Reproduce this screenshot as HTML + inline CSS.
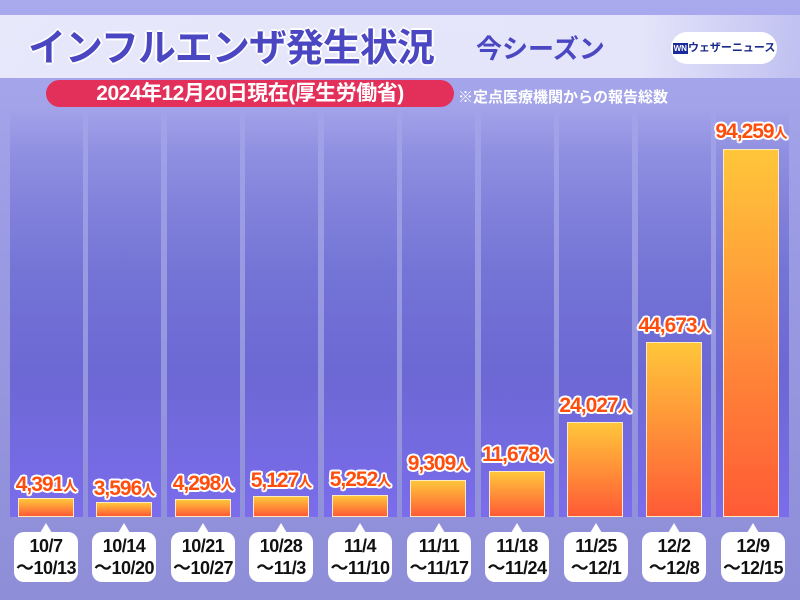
<!DOCTYPE html>
<html><head><meta charset="utf-8">
<style>
body{margin:0;width:800px;height:600px;overflow:hidden;font-family:"Liberation Sans","Noto Sans CJK JP",sans-serif;}
#c{position:relative;width:800px;height:600px;background:linear-gradient(#a9a9ee 0%,#9b9be4 40%,#8e8ed8 100%);overflow:hidden}
.strip{position:absolute;top:108px;height:409px;width:73px;background:linear-gradient(rgba(150,150,230,0) 0%,rgba(130,130,220,0.6) 12%,#7474d6 40%,#6c68d4 65%,#7b6cec 100%)}
.bar{position:absolute;width:56px;bottom:83px;border:1px solid #ffe9c0;background:linear-gradient(#ffc63a,#ff5a36);box-sizing:border-box}
.val{position:absolute;width:110px;text-align:center;font-weight:bold;font-size:21px;color:#ff4d0c;letter-spacing:-1px;
text-shadow:2px 0 #fff,-2px 0 #fff,0 2px #fff,0 -2px #fff,1.5px 1.5px #fff,-1.5px -1.5px #fff,1.5px -1.5px #fff,-1.5px 1.5px #fff}
.val small{font-size:14px}
.lab{position:absolute;top:532px;width:64px;height:50px;background:#fff;border-radius:10px;text-align:center;font-weight:bold;font-size:18px;line-height:22px;color:#111;padding-top:3px;box-sizing:border-box;letter-spacing:-0.5px}
.lab:before{content:"";position:absolute;left:26px;top:-9px;border-left:6px solid transparent;border-right:6px solid transparent;border-bottom:10px solid #fff}
</style></head><body><div id="c">
<div style="position:absolute;left:0;top:15px;width:800px;height:63px;background:linear-gradient(90deg,rgba(235,235,252,0.95),rgba(235,235,252,0.9) 80%,rgba(210,210,245,0.6))"></div>
<div style="position:absolute;left:28px;top:17px;font-size:38px;font-weight:bold;color:#4b47c2;letter-spacing:-1px;text-shadow:2px 0 #fff,-2px 0 #fff,0 2px #fff,0 -2px #fff">インフルエンザ発生状況</div>
<div style="position:absolute;left:476px;top:29px;font-size:26px;font-weight:bold;color:#4b47c2">今シーズン</div>
<div style="position:absolute;left:671px;top:32px;width:106px;height:32px;background:#fff;border-radius:16px;font-size:11px;font-weight:bold;color:#1a2a8a;line-height:32px;text-align:center"><span style="display:inline-block;background:#1a2a9a;color:#fff;font-size:8px;line-height:11px;padding:0 1px;vertical-align:middle">WN</span>ウェザーニュース</div>
<div style="position:absolute;left:46px;top:80px;width:408px;height:27px;background:#e2305a;border-radius:14px;color:#fff;font-weight:bold;font-size:21px;line-height:27px;text-align:center;letter-spacing:-0.5px">2024年12月20日現在(厚生労働省)</div>
<div style="position:absolute;left:458px;top:86px;color:#fff;font-weight:bold;font-size:15px">※定点医療機関からの報告総数</div>

<div class="strip" style="left:10px"></div><div class="strip" style="left:88px"></div><div class="strip" style="left:167px"></div><div class="strip" style="left:245px"></div><div class="strip" style="left:324px"></div><div class="strip" style="left:402px"></div><div class="strip" style="left:481px"></div><div class="strip" style="left:559px"></div><div class="strip" style="left:638px"></div><div class="strip" style="left:716px"></div>

<div class="bar" style="left:18px;height:19px"></div>
<div class="bar" style="left:96px;height:15px"></div>
<div class="bar" style="left:175px;height:18px"></div>
<div class="bar" style="left:253px;height:21px"></div>
<div class="bar" style="left:332px;height:22px"></div>
<div class="bar" style="left:410px;height:37px"></div>
<div class="bar" style="left:489px;height:46px"></div>
<div class="bar" style="left:567px;height:95px"></div>
<div class="bar" style="left:646px;height:175px"></div>
<div class="bar" style="left:723px;height:368px"></div>

<div class="val" style="left:-9px;top:473px">4,391<small>人</small></div>
<div class="val" style="left:69px;top:477px">3,596<small>人</small></div>
<div class="val" style="left:148px;top:472px">4,298<small>人</small></div>
<div class="val" style="left:226px;top:469px">5,127<small>人</small></div>
<div class="val" style="left:305px;top:468px">5,252<small>人</small></div>
<div class="val" style="left:383px;top:452px">9,309<small>人</small></div>
<div class="val" style="left:462px;top:443px">11,678<small>人</small></div>
<div class="val" style="left:540px;top:394px">24,027<small>人</small></div>
<div class="val" style="left:619px;top:314px">44,673<small>人</small></div>
<div class="val" style="left:696px;top:120px">94,259<small>人</small></div>

<div class="lab" style="left:14px">10/7<br>〜10/13</div>
<div class="lab" style="left:92px">10/14<br>〜10/20</div>
<div class="lab" style="left:171px">10/21<br>〜10/27</div>
<div class="lab" style="left:249px">10/28<br>〜11/3</div>
<div class="lab" style="left:328px">11/4<br>〜11/10</div>
<div class="lab" style="left:407px">11/11<br>〜11/17</div>
<div class="lab" style="left:485px">11/18<br>〜11/24</div>
<div class="lab" style="left:564px">11/25<br>〜12/1</div>
<div class="lab" style="left:642px">12/2<br>〜12/8</div>
<div class="lab" style="left:721px">12/9<br>〜12/15</div>
</div></body></html>
